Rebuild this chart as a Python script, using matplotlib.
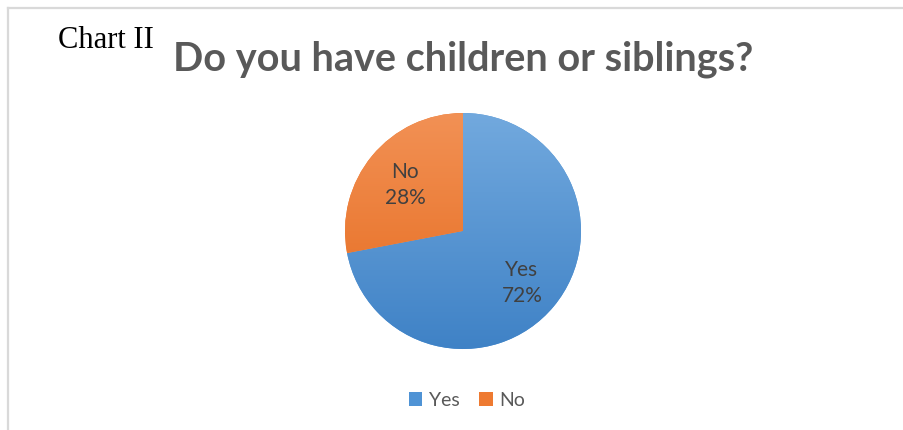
import numpy as np
import matplotlib
matplotlib.use("Agg")
import matplotlib.pyplot as plt
from matplotlib.lines import Line2D
from matplotlib.patches import Patch

# survey answers
labels = ["Yes", "No"]
shares = [72, 28]
top_colors = ["#72a9de", "#f29155"]
bottom_colors = ["#3f82c6", "#e5691b"]
legend_colors = ["#4f93d5", "#ee7a31"]

fig = plt.figure(figsize=(9.04, 4.31), dpi=100)
W, H = 904, 431

# frame lines around the chart area
fig.add_artist(Line2D([8 / W, 1], [1 - 9 / H, 1 - 9 / H], color="#d9d9d9", lw=1.6))
fig.add_artist(Line2D([8 / W, 8 / W], [0, 1 - 9 / H], color="#d9d9d9", lw=1.6))

cx, cy, r = 463, 232, 118
ax = fig.add_axes([(cx - r) / W, (H - cy - r) / H, 2 * r / W, 2 * r / H])

wedges, _ = ax.pie(shares, startangle=90, counterclock=False, radius=1,
                   colors=legend_colors, wedgeprops=dict(linewidth=0))

# vertical gradient fill for each slice
for w, c0, c1 in zip(wedges, top_colors, bottom_colors):
    a = np.array(matplotlib.colors.to_rgb(c0))
    b = np.array(matplotlib.colors.to_rgb(c1))
    t = np.linspace(0, 1, 256)[:, None]
    grad = (a[None, :] * (1 - t) + b[None, :] * t)[:, None, :]
    im = ax.imshow(grad, extent=[-1, 1, -1, 1], origin="upper", aspect="auto", zorder=2)
    im.set_clip_path(w)

ax.set_xlim(-1, 1)
ax.set_ylim(-1, 1)
ax.set_aspect("auto")
ax.axis("off")

# slice labels
lbl_font = dict(family="Lato", fontsize=15, color="#404040", ha="center", va="center",
                linespacing=1.4, zorder=3)
ax.text(0.50, -0.43, f"{labels[0]}\n{shares[0]}%", **lbl_font)
ax.text(-0.49, 0.40, f"{labels[1]}\n{shares[1]}%", **lbl_font)

fig.text(58 / W, 1 - 41 / H, "Chart II", family="Liberation Serif", fontsize=22,
         color="black", ha="left", va="center")
fig.text(463 / W, 1 - 59 / H, "Do you have children or siblings?", family="Lato",
         fontweight="bold", fontsize=28.5, color="#595959", ha="center", va="center")

handles = [Patch(facecolor=c, edgecolor="none") for c in legend_colors]
fig.legend(handles, labels, loc="center", bbox_to_anchor=(467 / W, 1 - 401 / H),
           ncol=2, frameon=False, prop=dict(family="Lato", size=14),
           labelcolor="#595959", handlelength=0.7, handleheight=0.7,
           handletextpad=0.35, columnspacing=1.0)

fig.savefig("out.png", dpi=100)
